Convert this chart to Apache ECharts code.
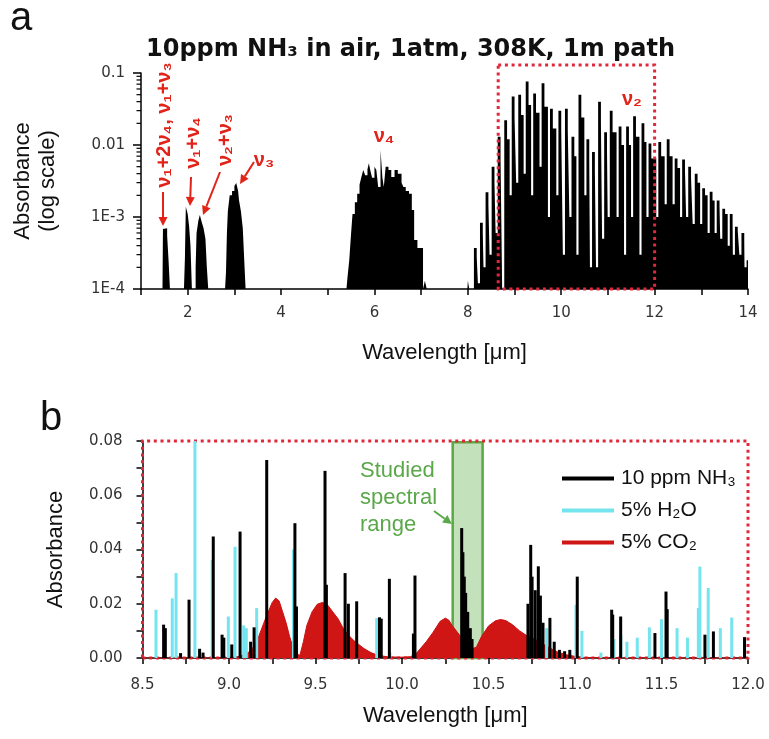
<!DOCTYPE html>
<html><head><meta charset="utf-8">
<script src="https://cdn.jsdelivr.net/npm/echarts@6/dist/echarts.min.js"></script>
<style>html,body{margin:0;padding:0;background:#fff;overflow:hidden}#c{width:769px;height:739px}</style>
</head><body><div id="c"></div>
<script>
// ---------------- DATA ----------------
// Panel a: NH3 absorbance (log scale) — band profiles [wavelength µm], [absorbance]
const b1Lam = [1.46, 1.47, 1.50, 1.56, 1.59, 1.62];
const b1Abs = [1e-4, 6.8e-4, 7.0e-4, 5.5e-4, 2.5e-4, 1e-4];
const b2Lam = [1.92, 1.94, 1.96, 2.00, 2.03, 2.06, 2.09];
const b2Abs = [1e-4, 2.6e-4, 1.39e-3, 1.1e-3, 7.5e-4, 4e-4, 1e-4];
const b3Lam = [2.17, 2.19, 2.23, 2.26, 2.30, 2.34, 2.38, 2.41, 2.44];
const b3Abs = [2e-4, 6e-4, 9e-4, 1.07e-3, 8.5e-4, 7e-4, 5e-4, 2e-4, 1e-4];
const b4Lam = [2.80, 2.82, 2.84, 2.86, 2.90, 2.95, 3.00, 3.04, 3.08, 3.10, 3.14, 3.18, 3.21, 3.24];
const b4Abs = [1e-4, 1.7e-4, 6e-4, 1.2e-3, 2.0e-3, 2.3e-3, 2.7e-3, 2.96e-3, 2.3e-3, 1.7e-3, 1.2e-3, 7e-4, 2.6e-4, 1e-4];
const b5Lam = [5.40, 5.42, 5.46, 5.50, 5.53, 5.58, 5.63, 5.68, 5.72, 5.76, 5.80, 5.85, 5.88, 5.92, 5.95, 6.00, 6.04, 6.08, 6.13, 6.17, 6.20, 6.24, 6.30, 6.36, 6.43, 6.50, 6.58, 6.62, 6.67, 6.74, 6.80, 6.85, 6.92, 7.04, 7.08, 7.12];
const b5Abs = [1e-4, 1.4e-4, 2.5e-4, 6e-4, 1.1e-3, 1.6e-3, 2.1e-3, 2.8e-3, 3.6e-3, 4.5e-3, 3.8e-3, 4.6e-3, 5.6e-3, 4.2e-3, 3.5e-3, 5.0e-3, 4.5e-3, 2.6e-3, 8.5e-3, 3.5e-3, 2.6e-3, 5.0e-3, 4.5e-3, 3.6e-3, 4.5e-3, 4.0e-3, 3.0e-3, 2.6e-3, 2.3e-3, 2.1e-3, 1.25e-3, 4.8e-4, 3.7e-4, 1e-4, 1.3e-4, 1e-4];
const b6Lam = [7.99, 8.00, 8.03];
const b6Abs = [1e-4, 1.3e-4, 1e-4];
// nu2 band: line manifolds (start wavelength, peak, shoulder, slit depth after)
const nu2Lam  = [8.13,8.26,8.38,8.51,8.64,8.78,8.94,9.08,9.24,9.40,9.58,9.76,9.94,10.08,10.22,10.37,10.54,10.66,10.79,10.92,11.04,11.23,11.39,11.54,11.72,11.87,12.08,12.26,12.43,12.59,12.72,12.86,13.02,13.18,13.33,13.45,13.61,13.72,13.86,13.97];
const nu2Peak = [3.7e-4,8.3e-4,2.2e-3,5.0e-3,1.3e-2,2.2e-2,4.7e-2,5.0e-2,7.6e-2,5.2e-2,7.2e-2,3.2e-2,3.0e-2,3.2e-2,1.3e-2,5.0e-2,1.2e-2,8e-3,4.0e-2,1.5e-2,3.0e-2,1.8e-2,1.8e-2,2.5e-2,2.0e-2,1.05e-2,1.1e-2,1.2e-2,6.5e-3,6.3e-3,5e-3,4.0e-3,2.5e-3,2.25e-3,1.7e-3,1.3e-3,1.1e-3,7.3e-4,6e-4,2.5e-4];
const nu2Mid  = [2.8e-4,6e-4,1.5e-3,3e-3,6.5e-3,1.2e-2,2.4e-2,2.6e-2,3.6e-2,2.8e-2,3.4e-2,1.7e-2,1.6e-2,1.6e-2,7e-3,2.4e-2,6e-3,4.5e-3,2e-2,8.5e-3,1.5e-2,1e-2,1e-2,1.3e-2,1.1e-2,6.5e-3,7e-3,7e-3,4.8e-3,4.5e-3,3.5e-3,3e-3,2e-3,1.7e-3,1.4e-3,1.1e-3,9e-4,6.5e-4,4.5e-4,2e-4];
const nu2Gap  = [1.2e-4,2e-4,3e-4,6e-4,1e-4,2e-3,3e-3,4e-3,2e-3,5e-3,1e-3,2e-3,3e-4,1e-3,3e-4,2e-3,2e-4,2e-4,5e-4,1e-3,1e-3,3e-4,1e-3,3e-4,1e-3,1e-3,1.5e-3,1.5e-3,1e-3,1e-3,8e-4,8e-4,6e-4,6e-4,5e-4,4e-4,3e-4,3e-4,2e-4,1e-4];

// Panel b: line-by-line absorbance
const nh3Lam = [8.622,8.632,8.720,8.769,8.830,8.850,8.909,8.960,8.970,9.016,9.064,9.125,9.145,9.218,9.381,9.390,9.555,9.563,9.671,9.690,9.738,9.870,9.880,9.927,10.066,10.075,10.345,10.352,10.360,10.368,10.380,10.395,10.405,10.728,10.744,10.752,10.770,10.788,10.800,10.815,10.855,10.880,10.910,10.940,10.970,11.013,11.212,11.218,11.264,11.462,11.526,11.533,11.751,11.800,11.980];
const nh3Abs = [0.0123,0.0110,0.0018,0.0215,0.0034,0.0020,0.0448,0.0086,0.0075,0.0050,0.0466,0.0060,0.0113,0.0730,0.0497,0.0190,0.0690,0.0270,0.0313,0.0200,0.0209,0.0150,0.0145,0.0292,0.0090,0.0304,0.0479,0.0390,0.0300,0.0240,0.0170,0.0110,0.0070,0.0200,0.0417,0.0300,0.0250,0.0338,0.0230,0.0130,0.0148,0.0060,0.0030,0.0025,0.0030,0.0300,0.0178,0.0160,0.0153,0.0092,0.0245,0.0180,0.0086,0.0098,0.0077];
const h2oLam = [8.578,8.672,8.694,8.803,8.903,8.996,9.035,9.085,9.100,9.160,9.373,9.854,9.930,10.836,11.006,11.040,11.150,11.225,11.265,11.300,11.360,11.430,11.500,11.590,11.650,11.713,11.722,11.770,11.840,11.906,11.980];
const h2oAbs = [0.0178,0.0220,0.0313,0.0800,0.0362,0.0153,0.0410,0.0120,0.0110,0.0184,0.0400,0.0147,0.0020,0.0110,0.0196,0.0100,0.0020,0.0070,0.0086,0.0060,0.0075,0.0113,0.0143,0.0110,0.0075,0.0184,0.0337,0.0258,0.0110,0.0149,0.0070];
const co2Lam = [8.50,9.00,9.05,9.10,9.13,9.16,9.19,9.22,9.25,9.27,9.29,9.31,9.33,9.35,9.37,9.39,9.41,9.43,9.45,9.48,9.51,9.54,9.57,9.60,9.63,9.66,9.69,9.72,9.75,9.78,9.82,9.86,9.92,10.00,10.05,10.08,10.10,10.14,10.18,10.22,10.25,10.27,10.29,10.32,10.35,10.38,10.41,10.43,10.46,10.50,10.54,10.57,10.60,10.64,10.68,10.72,10.76,10.80,10.85,10.90,10.95,11.00,11.05,12.00];
const co2Abs = [0,0,0.0005,0.0015,0.003,0.006,0.011,0.016,0.0205,0.0221,0.021,0.017,0.013,0.008,0.004,0.0015,0.001,0.006,0.012,0.017,0.0198,0.0205,0.0195,0.017,0.0145,0.011,0.0085,0.0065,0.005,0.0035,0.002,0.001,0.0004,0.0003,0.0005,0.0015,0.003,0.006,0.0095,0.0135,0.0147,0.014,0.012,0.0095,0.007,0.005,0.0035,0.004,0.008,0.0118,0.0137,0.0142,0.0138,0.0122,0.010,0.0083,0.0072,0.0058,0.0038,0.0022,0.0012,0.0006,0.0002,0];

// tick labels
const logTickText = {'-1':'0.1','-2':'0.01','-3':'1E-3','-4':'1E-4'};
const seriesNames = ['10 ppm NH₃', '5% H₂O', '5% CO₂'];

// ---------------- BUILD ----------------
const PW = 0.06, SW = 0.045;
const pair = (xs, ys) => xs.map((x, i) => [x, ys[i]]);
let topPts = [[1.0, 1e-4]]
  .concat(pair(b1Lam, b1Abs), pair(b2Lam, b2Abs), pair(b3Lam, b3Abs),
          pair(b4Lam, b4Abs), pair(b5Lam, b5Abs), pair(b6Lam, b6Abs));
for (let i = 0; i < nu2Lam.length; i++) {
  const l = nu2Lam[i];
  const nx = i < nu2Lam.length - 1 ? nu2Lam[i + 1] : 14.1;
  topPts.push([l, nu2Peak[i]], [l + PW, nu2Mid[i]], [nx - SW, nu2Gap[i]]);
}
topPts.push([14.1, 1e-4]);

const SANS = 'Liberation Sans', DJ = 'DejaVu Sans';
const tickLbl = {fontFamily: DJ, fontSize: 15, color: '#333'};
const axisName = {fontFamily: SANS, fontSize: 22, color: '#111'};
const blackLine = {lineStyle: {color: '#000', width: 1.5}};
const tickStyle = {color: '#000', width: 1.5};

const chart = echarts.init(document.getElementById('c'), null, {renderer: 'canvas'});
const option = {
  animation: false,
  backgroundColor: '#fff',
  title: {text: '10ppm NH₃ in air, 1atm, 308K, 1m path', left: 141, top: 33,
    textStyle: {fontFamily: DJ, fontWeight: 'bold', fontSize: 24, color: '#111'}},
  legend: {data: seriesNames.map(n => ({name: n, icon: 'rect'})), orient: 'vertical',
    left: 557, top: 463, itemWidth: 52, itemHeight: 4, itemGap: 11, selectedMode: false,
    textStyle: {fontFamily: SANS, fontSize: 21, color: '#111', padding: [0, 0, 0, 2]}},
  grid: [{left: 141, top: 73, width: 607, height: 216},
         {left: 142.5, top: 441, width: 605.5, height: 217}],
  xAxis: [
    {gridIndex: 0, type: 'value', min: 1, max: 14, interval: 1, axisLine: blackLine,
     axisTick: {show: true, length: 6, lineStyle: tickStyle},
     axisLabel: {interval: 0, margin: 17, ...tickLbl, formatter: v => (Math.round(v) % 2 === 0 ? String(Math.round(v)) : '')},
     splitLine: {show: false}, name: 'Wavelength [μm]', nameLocation: 'middle', nameGap: 53, nameTextStyle: axisName},
    {gridIndex: 1, type: 'value', min: 8.5, max: 12, interval: 0.25, axisLine: blackLine,
     axisTick: {show: true, length: 6, lineStyle: tickStyle},
     axisLabel: {interval: 0, margin: 20, ...tickLbl, formatter: v => (Math.abs(v * 2 - Math.round(v * 2)) < 1e-6 ? v.toFixed(1) : '')},
     splitLine: {show: false}, name: 'Wavelength [μm]', nameLocation: 'middle', nameGap: 47, nameTextStyle: axisName}
  ],
  yAxis: [
    {gridIndex: 0, type: 'log', logBase: 10, min: 1e-4, max: 0.1, axisLine: {show: true, ...blackLine},
     axisTick: {show: true, length: 8, lineStyle: tickStyle},
     axisLabel: {margin: 16, ...tickLbl, formatter: v => logTickText[String(Math.round(Math.log10(v)))] || ''},
     splitLine: {show: false}, name: 'Absorbance\n(log scale)', nameLocation: 'middle', nameGap: 81,
     nameTextStyle: {...axisName, lineHeight: 25}},
    {gridIndex: 1, type: 'value', min: 0, max: 0.08, interval: 0.01, axisLine: {show: true, ...blackLine},
     axisTick: {show: true, length: 6, lineStyle: tickStyle},
     axisLabel: {margin: 20, ...tickLbl, formatter: v => (Math.round(v * 100) % 2 === 0 ? v.toFixed(2) : '')},
     splitLine: {show: false}, name: 'Absorbance', nameLocation: 'middle', nameGap: 76, nameTextStyle: axisName}
  ],
  series: [
    {type: 'line', name: 'NH3 log', xAxisIndex: 0, yAxisIndex: 0, data: topPts, step: 'end', symbol: 'none',
     lineStyle: {width: 0}, areaStyle: {color: '#000', opacity: 1, origin: 'start'}, z: 2, silent: true},
    {type: 'line', name: seriesNames[2], xAxisIndex: 1, yAxisIndex: 1, data: pair(co2Lam, co2Abs), symbol: 'none',
     itemStyle: {color: '#d01515'}, lineStyle: {color: '#c81212', width: 1}, areaStyle: {color: '#d01515', opacity: 1}, z: 2, silent: true},
    {type: 'bar', name: seriesNames[1], xAxisIndex: 1, yAxisIndex: 1, data: pair(h2oLam, h2oAbs), barWidth: 3, barGap: '-100%',
     itemStyle: {color: '#74e4ee'}, z: 3, silent: true},
    {type: 'bar', name: seriesNames[0], xAxisIndex: 1, yAxisIndex: 1, data: pair(nh3Lam, nh3Abs), barWidth: 3, barGap: '-100%',
     itemStyle: {color: '#000'}, z: 4, silent: true},
    {type: 'line', name: 'overlay', xAxisIndex: 1, yAxisIndex: 1, data: [[8.5, 0]], symbol: 'none', lineStyle: {opacity: 0}, z: 6, silent: true,
     markArea: {silent: true, label: {show: false}, data: [
       [{coord: [10.293, 0], itemStyle: {color: 'rgba(105,180,85,0.40)', borderColor: '#5aa846', borderWidth: 2.5}},
        {coord: [10.466, 0.0795]}],
       [{coord: [8.5, 0], itemStyle: {color: 'rgba(0,0,0,0)', borderColor: '#e0283a', borderWidth: 3, borderType: [3, 3.7]}},
        {coord: [12, 0.08]}]
     ]}}
  ]
};
chart.setOption(option);

// ---------------- ANNOTATIONS ----------------
const RED = '#e2231a', GREEN = '#5aa84a';
function arrow(x1, y1, x2, y2, color) {
  const a = Math.atan2(y2 - y1, x2 - x1), L = 9, W = 4.5;
  const bx = x2 - L * Math.cos(a), by = y2 - L * Math.sin(a);
  return [
    {type: 'line', silent: true, shape: {x1, y1, x2: bx, y2: by}, style: {stroke: color, lineWidth: 2}},
    {type: 'polygon', silent: true, shape: {points: [[x2, y2], [bx + W * Math.sin(a), by - W * Math.cos(a)], [bx - W * Math.sin(a), by + W * Math.cos(a)]]}, style: {fill: color}}
  ];
}
function txt(x, y, s, font, fill, rot, align) {
  return {type: 'text', silent: true, x, y, rotation: rot || 0,
    style: {text: s, font, fill, align: align || 'center', verticalAlign: 'middle'}};
}
// log-axis minor ticks (2..9 × each decade), placed through the axis' own scale
const axisX = chart.convertToPixel({xAxisIndex: 0}, 1);
const minorTicks = [];
for (let e = -4; e < -1; e++) for (let k = 2; k <= 9; k++) {
  const y = chart.convertToPixel({yAxisIndex: 0}, k * Math.pow(10, e));
  minorTicks.push({type: 'line', silent: true, shape: {x1: axisX - 4.5, y1: y, x2: axisX, y2: y}, style: {stroke: '#000', lineWidth: 1.2}});
}
const p1 = chart.convertToPixel({xAxisIndex: 0, yAxisIndex: 0}, [8.65, 0.1]);
const p2 = chart.convertToPixel({xAxisIndex: 0, yAxisIndex: 0}, [12.0, 1e-4]);
const redFont = 'bold 20px "Liberation Sans"';
const graphics = [
  txt(10, 19, 'a', '40px "Liberation Sans"', '#111', 0, 'left'),
  txt(40, 419, 'b', '40px "Liberation Sans"', '#111', 0, 'left'),
  ...minorTicks,
  {type: 'rect', silent: true, shape: {x: p1[0], y: p1[1] - 8, width: p2[0] - p1[0], height: p2[1] - p1[1] + 8},
   style: {fill: 'none', stroke: '#e0283a', lineWidth: 3, lineDash: [3, 3.7]}, z: 10},
  txt(632, 99, 'ν₂', redFont, RED),
  txt(384, 136, 'ν₄', redFont, RED),
  txt(264, 160, 'ν₃', redFont, RED),
  txt(164, 125, 'ν₁+2ν₄, ν₁+ν₃', redFont, RED, Math.PI / 2),
  txt(193, 143, 'ν₁+ν₄', redFont, RED, Math.PI / 2),
  txt(225, 140, 'ν₂+ν₃', redFont, RED, Math.PI / 2),
  ...arrow(163, 192, 163, 226, RED),
  ...arrow(191, 177, 190, 206, RED),
  ...arrow(220, 172, 203, 215, RED),
  ...arrow(254, 162, 240, 184, RED),
  txt(360, 471, 'Studied', '22px "Liberation Sans"', GREEN, 0, 'left'),
  txt(360, 498, 'spectral', '22px "Liberation Sans"', GREEN, 0, 'left'),
  txt(360, 525, 'range', '22px "Liberation Sans"', GREEN, 0, 'left'),
  ...arrow(434, 511, 452, 524, GREEN)
];
chart.setOption({graphic: graphics});
</script></body></html>
